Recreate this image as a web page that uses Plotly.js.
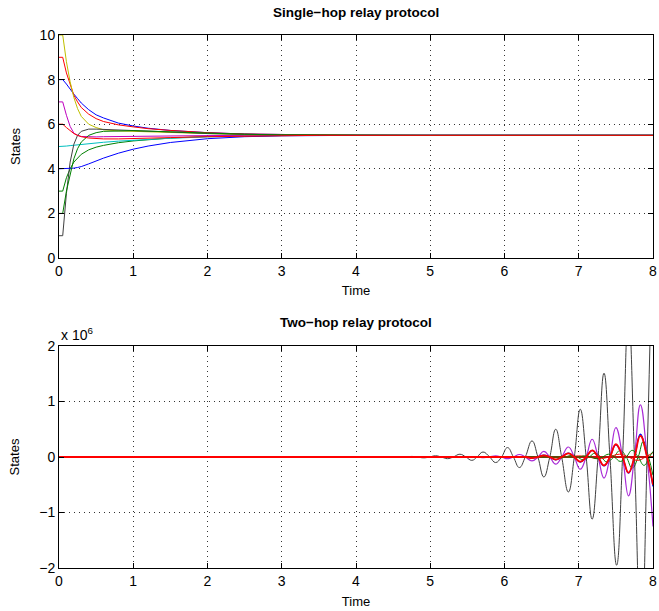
<!DOCTYPE html>
<html>
<head>
<meta charset="utf-8">
<script src="https://cdn.plot.ly/plotly-3.0.1.min.js"></script>
<style>html,body{margin:0;padding:0;background:#fff;}#chart{width:659px;height:611px;}</style>
</head>
<body>
<div id="chart"></div>
<script>
// ---------- Top panel: Single-hop relay protocol ----------
const tTop = [0, 0.05, 0.1, 0.15, 0.2, 0.25, 0.3, 0.4, 0.5, 0.6, 0.8, 1.0, 1.2, 1.5, 2.0, 2.5, 3.0, 3.5, 4.0, 5.0, 8.0];
const top_x1 = [8, 8, 7.8, 7.55, 7.35, 7.15, 6.95, 6.65, 6.42, 6.28, 6.05, 5.92, 5.82, 5.72, 5.62, 5.56, 5.53, 5.51, 5.5, 5.5, 5.5];
const top_x2 = [3, 3, 3.6, 4.0, 4.3, 4.5, 4.65, 4.85, 4.97, 5.05, 5.17, 5.25, 5.31, 5.38, 5.45, 5.48, 5.5, 5.5, 5.5, 5.5, 5.5];
const top_x3 = [9, 9, 8.3, 7.75, 7.3, 7.0, 6.75, 6.45, 6.25, 6.12, 5.97, 5.88, 5.8, 5.72, 5.62, 5.56, 5.53, 5.51, 5.5, 5.5, 5.5];
const top_x4 = [5, 5, 5.02, 5.04, 5.06, 5.08, 5.1, 5.13, 5.16, 5.19, 5.24, 5.28, 5.32, 5.37, 5.43, 5.47, 5.49, 5.5, 5.5, 5.5, 5.5];
const top_x5 = [7, 7, 6.4, 5.9, 5.6, 5.5, 5.45, 5.43, 5.43, 5.44, 5.45, 5.46, 5.47, 5.48, 5.49, 5.5, 5.5, 5.5, 5.5, 5.5, 5.5];
const top_x6 = [10, 10, 8.8, 7.9, 7.2, 6.7, 6.35, 6.0, 5.85, 5.75, 5.7, 5.68, 5.65, 5.6, 5.56, 5.53, 5.51, 5.5, 5.5, 5.5, 5.5];
const top_x7 = [1, 1, 2.9, 4.3, 5.1, 5.5, 5.68, 5.78, 5.78, 5.77, 5.75, 5.72, 5.69, 5.65, 5.58, 5.54, 5.52, 5.51, 5.5, 5.5, 5.5];
const top_x8 = [4, 4, 4.0, 4.01, 4.03, 4.06, 4.1, 4.22, 4.36, 4.48, 4.7, 4.88, 5.02, 5.18, 5.35, 5.44, 5.48, 5.5, 5.5, 5.5, 5.5];
const top_x9 = [2, 2, 3.0, 3.8, 4.45, 4.9, 5.2, 5.5, 5.62, 5.68, 5.71, 5.71, 5.69, 5.65, 5.59, 5.55, 5.52, 5.51, 5.5, 5.5, 5.5];
const top_x10 = [6, 6, 5.85, 5.7, 5.58, 5.5, 5.44, 5.38, 5.35, 5.34, 5.34, 5.35, 5.37, 5.4, 5.44, 5.47, 5.49, 5.5, 5.5, 5.5, 5.5];

// ---------- Bottom panel: Two-hop relay protocol (values in units of 10^6) ----------
const tGray = [0, 4.26, 4.34, 4.42, 4.50, 4.59, 4.67, 4.75, 4.83, 4.91, 4.99, 5.07, 5.15, 5.23, 5.31, 5.40, 5.48, 5.56, 5.63, 5.71, 5.80, 5.88, 5.96, 6.04, 6.12, 6.20, 6.28, 6.37, 6.45, 6.53, 6.61, 6.69, 6.77, 6.86, 6.94, 7.02, 7.10, 7.18, 7.26, 7.34, 7.42, 7.51, 7.59, 7.67, 7.75, 7.84, 7.92, 8.0];
const bot_x7 = [0, 0, 0, 0.004, 0, -0.006, 0, 0.01, 0, -0.015, 0, 0.022, 0, -0.03, 0, 0.05, 0, -0.06, 0, 0.09, 0, -0.10, 0, 0.17, 0, -0.19, 0, 0.29, 0, -0.36, 0, 0.50, 0, -0.63, 0, 0.86, 0, -1.12, 0, 1.51, 0, -1.95, 0, 2.6, 0, -3.4, 0, 4.5];

const tMag = [0, 5.56, 5.64, 5.72, 5.80, 5.88, 5.96, 6.04, 6.12, 6.20, 6.28, 6.37, 6.45, 6.53, 6.61, 6.69, 6.77, 6.86, 6.94, 7.02, 7.10, 7.18, 7.26, 7.34, 7.42, 7.50, 7.59, 7.67, 7.75, 7.83, 7.92, 8.0];
const bot_x5 = [0, 0, 0, -0.01, 0, 0.02, 0, -0.03, 0, 0.045, 0, -0.07, 0, 0.10, 0, -0.13, 0, 0.18, 0, -0.22, 0, 0.32, 0, -0.38, 0, 0.53, 0, -0.70, 0, 0.94, 0, -1.25];

const tBlue = [0, 6.21, 6.29, 6.37, 6.45, 6.53, 6.61, 6.69, 6.77, 6.86, 6.94, 7.02, 7.10, 7.18, 7.26, 7.34, 7.42, 7.50, 7.59, 7.67, 7.75, 7.83, 7.92, 8.0];
const bot_x1 = [0, 0, 0, -0.02, 0, 0.035, 0, -0.05, 0, 0.07, 0, -0.09, 0, 0.12, 0, -0.16, 0, 0.22, 0, -0.29, 0, 0.41, 0, -0.53];
const bot_x10 = [0, 0, 0, -0.02, 0, 0.03, 0, -0.045, 0, 0.065, 0, -0.085, 0, 0.12, 0, -0.15, 0, 0.23, 0, -0.28, 0, 0.38, 0, -0.5];

const tGreen = [0, 6.42, 6.50, 6.58, 6.66, 6.74, 6.82, 6.90, 6.98, 7.06, 7.14, 7.22, 7.30, 7.38, 7.47, 7.56, 7.64, 7.72, 7.80, 7.87, 7.94, 8.0];
const bot_x2 = [0, 0, 0, 0.01, 0, -0.02, 0, 0.03, 0, -0.05, 0, 0.07, 0, -0.09, 0, 0.12, 0, -0.2, 0, 0.28, 0, -0.33];
const tGreen2 = [0, 6.92, 7.0, 7.08, 7.16, 7.24, 7.32, 7.40, 7.48, 7.56, 7.64, 7.72, 7.80, 7.88, 7.95, 8.0];
const bot_x9 = [0, 0, 0, 0.02, 0, -0.03, 0, 0.05, 0, -0.08, 0, 0.12, 0, -0.15, 0, 0.1];

const tRed2 = [0, 6.74, 6.87, 7.0, 7.13, 7.27, 7.41, 7.55, 7.67, 7.79, 7.90, 8.0];
const bot_x3 = [0, 0, 0, 0.02, 0, -0.03, 0, 0.05, 0, -0.06, 0, 0.08];

const tFlat = [0, 8];
const bot_x4 = [0, 0];
const bot_x6 = [0, 0];
const bot_x8 = [0, 0];

const C = {blue:'#0000ff', green:'#008000', red:'#ff0000', darkred:'#c01010', cyan:'#00bfbf', mag:'#bf00bf', purple:'#a82ad6', yel:'#bfbf00', gray:'#404040'};

function tr(x, y, color, axis, width, shape) {
  return {x: x, y: y, type: 'scatter', mode: 'lines', xaxis: axis === 2 ? 'x2' : 'x', yaxis: axis === 2 ? 'y2' : 'y',
          line: {color: color, width: width || 1, shape: shape || 'linear', smoothing: 1.3}, hoverinfo: 'skip', showlegend: false};
}

const data = [
  tr(tTop, top_x1, C.blue, 1), tr(tTop, top_x2, C.green, 1), tr(tTop, top_x3, C.red, 1),
  tr(tTop, top_x4, C.cyan, 1), tr(tTop, top_x5, C.mag, 1), tr(tTop, top_x6, C.yel, 1),
  tr(tTop, top_x7, C.gray, 1), tr(tTop, top_x8, C.blue, 1), tr(tTop, top_x9, C.green, 1),
  tr(tTop, top_x10, C.red, 1),
  tr(tBlue, bot_x1, C.blue, 2, 1.3, 'spline'), tr(tGreen, bot_x2, C.green, 2, 1, 'spline'),
  tr(tRed2, bot_x3, C.red, 2, 1, 'spline'), tr(tFlat, bot_x4, C.cyan, 2),
  tr(tMag, bot_x5, C.purple, 2, 1.2, 'spline'), tr(tFlat, bot_x6, C.yel, 2),
  tr(tGray, bot_x7, C.gray, 2, 1, 'spline'), tr(tFlat, bot_x8, C.darkred, 2, 2),
  tr(tGreen2, bot_x9, C.green, 2, 1, 'spline'), tr(tBlue, bot_x10, C.red, 2, 1.8, 'spline')
];

const FONT = 'Liberation Sans, Arial, sans-serif';
const axisCommon = {
  showline: true, linecolor: '#000', linewidth: 1, mirror: 'ticks',
  ticks: 'inside', ticklen: 5, tickcolor: '#000', tickwidth: 1,
  showgrid: true, gridcolor: '#333', gridwidth: 1, griddash: '1px,4px',
  zeroline: false, tickfont: {family: FONT, size: 14, color: '#000'}, automargin: false
};

const layout = {
  width: 659, height: 611,
  margin: {l: 59, r: 6, t: 35, b: 43},
  paper_bgcolor: '#fff', plot_bgcolor: '#fff',
  font: {family: FONT, color: '#000'},
  xaxis: Object.assign({}, axisCommon, {domain: [0, 1], anchor: 'y', range: [0, 8], dtick: 1, tick0: 0,
          title: {text: 'Time', font: {family: FONT, size: 13}, standoff: 8}}),
  yaxis: Object.assign({}, axisCommon, {domain: [0.5816, 1], anchor: 'x', range: [0, 10], dtick: 2, tick0: 0,
          title: {text: 'States', font: {family: FONT, size: 13}, standoff: 16}}),
  xaxis2: Object.assign({}, axisCommon, {domain: [0, 1], anchor: 'y2', range: [0, 8], dtick: 1, tick0: 0,
          title: {text: 'Time', font: {family: FONT, size: 13}, standoff: 9}}),
  yaxis2: Object.assign({}, axisCommon, {domain: [0, 0.4165], anchor: 'x2', range: [-2, 2], dtick: 1, tick0: 0,
          title: {text: 'States', font: {family: FONT, size: 13}, standoff: 16}}),
  annotations: [
    {text: '<b>Single\u2212hop relay protocol</b>', xref: 'paper', yref: 'paper', x: 0.5, y: 1.043,
     xanchor: 'center', yanchor: 'middle', showarrow: false, font: {family: FONT, size: 13.5, color: '#000'}},
    {text: '<b>Two\u2212hop relay protocol</b>', xref: 'paper', yref: 'paper', x: 0.5, y: 0.4615,
     xanchor: 'center', yanchor: 'middle', showarrow: false, font: {family: FONT, size: 13.5, color: '#000'}},
    {text: 'x 10<sup>6</sup>', xref: 'paper', yref: 'paper', x: 0, y: 0.439,
     xanchor: 'left', yanchor: 'middle', showarrow: false, font: {family: FONT, size: 14, color: '#000'}}
  ]
};

Plotly.newPlot('chart', data, layout, {staticPlot: true, displayModeBar: false});
</script>
</body>
</html>
